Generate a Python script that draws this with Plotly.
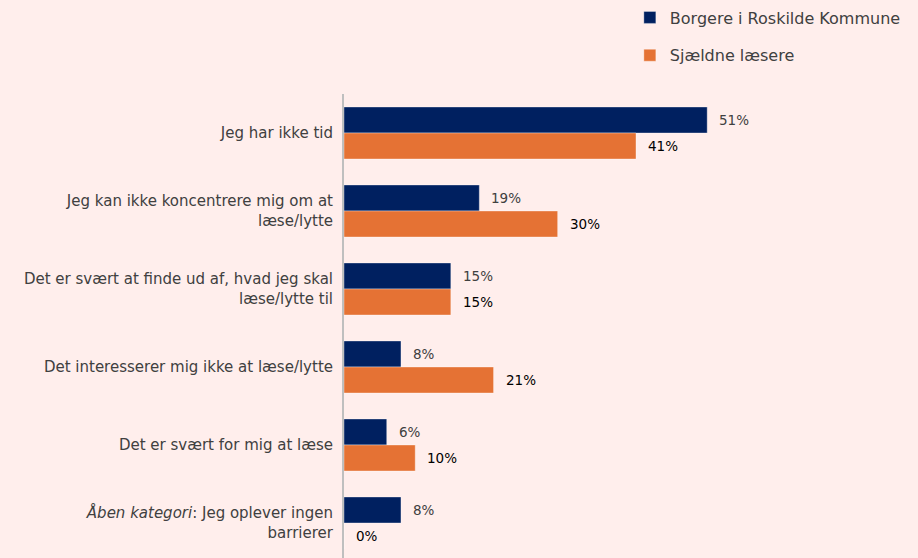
import plotly.graph_objects as go

categories = [
    "Jeg har ikke tid",
    "Jeg kan ikke koncentrere mig om at<br>læse/lytte",
    "Det er svært at finde ud af, hvad jeg skal<br>læse/lytte til",
    "Det interesserer mig ikke at læse/lytte",
    "Det er svært for mig at læse",
    "<i>Åben kategori</i>: Jeg oplever ingen<br>barrierer",
]
series_names = ["Borgere i Roskilde Kommune", "Sjældne læsere"]
borgere = [51, 19, 15, 8, 6, 8]
sjaeldne = [41, 30, 15, 21, 10, 0]

navy = "#002060"
orange = "#E57234"
bg = "#FFEEEC"
font = "DejaVu Sans"

idx = list(range(len(categories)))

fig = go.Figure()
fig.add_trace(go.Bar(
    y=idx, x=borgere, orientation="h", name=series_names[0],
    marker=dict(color=navy, line=dict(color="rgba(255,255,255,0.35)", width=1)),
    legendgroup="a",
))
fig.add_trace(go.Bar(
    y=idx, x=sjaeldne, orientation="h", name=series_names[1],
    marker=dict(color=orange, line=dict(color="rgba(255,255,255,0.35)", width=1)),
    legendgroup="b",
))

annotations = []
for i, v in enumerate(borgere):
    annotations.append(dict(x=v, y=i - 0.167, xref="x", yref="y", text=f"{v}%",
                            showarrow=False, xanchor="left", xshift=10,
                            font=dict(family=font, size=13.5, color="#404040")))
for i, v in enumerate(sjaeldne):
    annotations.append(dict(x=v, y=i + 0.167, xref="x", yref="y", text=f"{v}%",
                            showarrow=False, xanchor="left", xshift=10,
                            font=dict(family=font, size=13.5, color="#000000")))

fig.update_layout(
    width=918, height=558,
    margin=dict(l=344, r=0, t=94, b=0),
    paper_bgcolor=bg, plot_bgcolor=bg,
    barmode="group", bargap=0.333, bargroupgap=0,
    font=dict(family=font, size=15, color="#404040"),
    xaxis=dict(range=[0, 80.6], visible=False, fixedrange=True),
    yaxis=dict(
        range=[5.449, -0.5], tickmode="array", tickvals=idx, ticktext=categories,
        showline=True, linecolor="#BFBFBF", linewidth=2, showgrid=False,
        zeroline=False, ticks="", ticklabelstandoff=6, fixedrange=True,
        tickfont=dict(family=font, size=15, color="#404040"),
    ),
    legend=dict(
        x=0.498, y=1.2015, xanchor="left", yanchor="top",
        traceorder="grouped", tracegroupgap=14,
        font=dict(family=font, size=16, color="#404040"),
        bgcolor="rgba(0,0,0,0)",
    ),
    annotations=annotations,
    showlegend=True,
)

fig.write_html(
    "out.html",
    config={"displayModeBar": False},
    post_script="document.body.style.margin='0';document.body.style.background='%s';" % bg,
)
